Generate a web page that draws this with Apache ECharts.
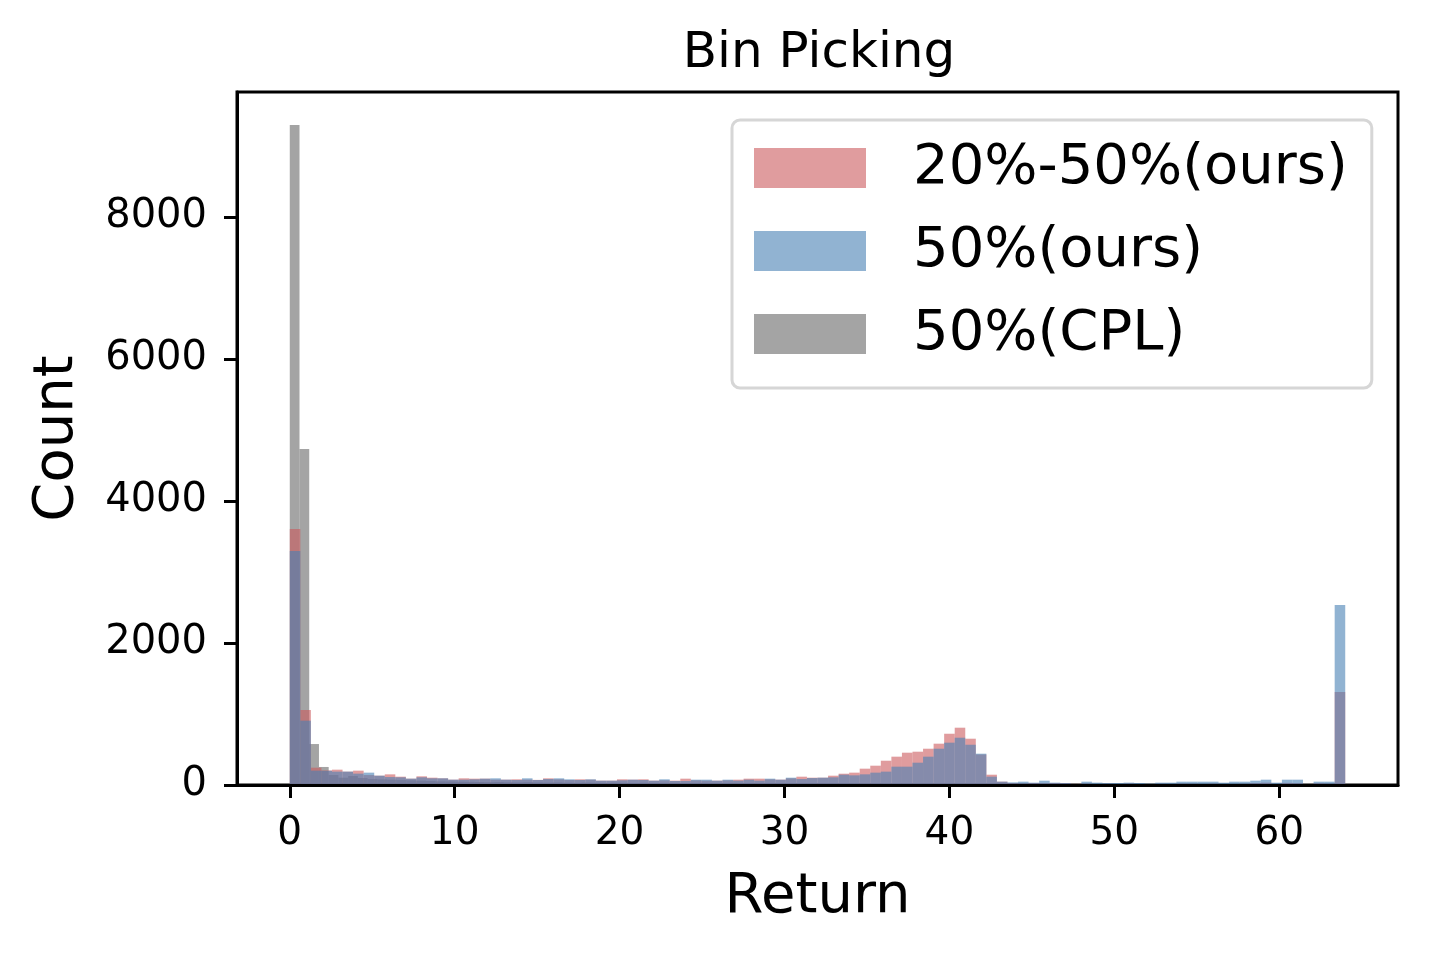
<!DOCTYPE html>
<html>
<head>
<meta charset="utf-8">
<title>Bin Picking</title>
<script src="https://cdn.jsdelivr.net/npm/echarts@6/dist/echarts.min.js"></script>
<style>
  html, body { margin: 0; padding: 0; background: #fff; }
  #chart { width: 1429px; height: 956px; }
</style>
</head>
<body>
<div id="chart"></div>
<script>
// histogram counts, one entry per bin
const binsOurs2050 = { start: 0, end: 64 }
const counts2050 = [
  3606, 1056, 244, 205, 216, 188, 202, 140, 131, 150,
  117, 89, 122, 103, 94, 75, 94, 89, 89, 75,
  75, 80, 75, 72, 94, 80, 70, 80, 75, 61,
  61, 80, 75, 80, 61, 66, 61, 89, 66, 61,
  61, 66, 75, 89, 89, 80, 75, 94, 117, 103,
  103, 131, 159, 174, 230, 272, 342, 399, 455, 469,
  511, 582, 722, 807, 652, 430, 145, 47, 28, 23,
  28, 25, 28, 25, 15, 20, 12, 18, 15, 20,
  15, 10, 18, 15, 20, 18, 15, 20, 12, 15,
  18, 25, 33, 15, 30, 25, 0, 25, 20, 1310
]

const binsOurs50 = { start: 0, end: 64 }
const counts50 = [
  3296, 906, 202, 200, 188, 188, 160, 174, 131, 112,
  108, 89, 108, 94, 94, 75, 75, 80, 89, 94,
  75, 70, 94, 70, 84, 94, 80, 70, 80, 61,
  61, 66, 75, 70, 61, 80, 56, 56, 75, 75,
  61, 75, 61, 75, 61, 89, 75, 103, 84, 98,
  103, 108, 145, 136, 150, 174, 188, 258, 258, 314,
  399, 511, 596, 666, 567, 441, 117, 47, 37, 47,
  33, 61, 33, 28, 14, 47, 33, 28, 28, 33,
  28, 19, 33, 33, 47, 47, 47, 47, 33, 47,
  47, 61, 75, 33, 75, 75, 0, 47, 47, 2535
]

const binsCpl50 = { start: 0, end: 59 }
const countsCpl50 = [
  9296, 4732, 577, 254, 141, 103, 127, 99, 85, 80,
  75, 70, 66, 61, 56, 52, 50, 47, 45, 42,
  40, 42, 38, 36, 40, 35, 33, 36, 32, 30,
  34, 31, 29, 33, 30, 28, 31, 27, 30, 29,
  26, 28, 30, 27, 25, 29, 26, 28, 24, 27,
  25, 23, 26, 24, 27, 22, 25, 23, 21, 24,
  22, 20, 23, 21, 19, 22, 20, 18, 21, 19,
  17, 20, 18, 16, 19, 17, 15, 18, 16, 14,
  17, 15, 13, 16, 14, 12, 15, 13, 11, 14,
  12, 10, 13, 11, 9, 12, 10, 8, 11, 9
]

const xTicks = [0, 10, 20, 30, 40, 50, 60]
const yTicks = [0, 2000, 4000, 6000, 8000]

const toBins = (range, counts) => {
  const w = (range.end - range.start) / counts.length
  return counts.map((c, i) => [range.start + i * w, range.start + (i + 1) * w, c])
}

const renderBin = (params, api) => {
  const p0 = api.coord([api.value(0), 0])
  const p1 = api.coord([api.value(1), api.value(2)])
  return {
    type: 'rect',
    shape: { x: p0[0], y: p1[1], width: p1[0] - p0[0], height: p0[1] - p1[1] },
    style: { fill: api.visual('color') },
  }
}

const FONT = 'DejaVu Sans'

const histSeries = (name, color, range, counts) => ({
  name: name,
  type: 'custom',
  renderItem: renderBin,
  itemStyle: { color: color },
  encode: { x: [0, 1], y: 2 },
  data: toBins(range, counts),
  clip: true,
})

const chart = echarts.init(document.getElementById('chart'), null, { renderer: 'canvas' })

chart.setOption({
  animation: false,
  backgroundColor: '#fff',
  title: {
    text: 'Bin Picking',
    left: 814,
    top: 24,
    textAlign: 'center',
    textStyle: { fontFamily: FONT, fontSize: 50, fontWeight: 'normal', color: '#000' },
  },
  legend: {
    data: ['20%-50%(ours)', '50%(ours)', '50%(CPL)'],
    orient: 'vertical',
    left: 732,
    top: 120,
    padding: [20, 24, 26, 22],
    itemWidth: 112,
    itemHeight: 40,
    itemGap: 27,
    icon: 'rect',
    backgroundColor: '#fff',
    borderColor: '#d6d6d6',
    borderWidth: 3,
    borderRadius: 8,
    textStyle: { fontFamily: FONT, fontSize: 56, color: '#000', padding: [0, 0, 0, 42] },
  },
  grid: {
    left: 237,
    right: 31,
    top: 92,
    bottom: 171,
    show: true,
    borderColor: '#000',
    borderWidth: 3,
  },
  xAxis: {
    type: 'value',
    min: -3.2,
    max: 67.2,
    z: 10,
    name: 'Return',
    nameLocation: 'middle',
    nameGap: 84,
    nameTextStyle: { fontFamily: FONT, fontSize: 56, color: '#000' },
    splitLine: { show: false },
    axisLine: { onZero: false, lineStyle: { color: '#000', width: 3 } },
    axisTick: { customValues: xTicks, length: 13, lineStyle: { color: '#000', width: 3 } },
    axisLabel: { customValues: xTicks, margin: 29, fontFamily: FONT, fontSize: 39, color: '#000' },
  },
  yAxis: {
    type: 'value',
    min: 0,
    max: 9760,
    z: 10,
    name: 'Count',
    nameLocation: 'middle',
    nameGap: 152,
    nameRotate: 90,
    nameTextStyle: { fontFamily: FONT, fontSize: 56, color: '#000' },
    splitLine: { show: false },
    axisLine: { show: true, onZero: false, lineStyle: { color: '#000', width: 3 } },
    axisTick: { show: true, customValues: yTicks, length: 13, lineStyle: { color: '#000', width: 3 } },
    axisLabel: {
      customValues: yTicks,
      margin: 30,
      fontFamily: FONT,
      fontSize: 40,
      color: '#000',
      formatter: (v) => String(v),
    },
  },
  series: [
    histSeries('50%(CPL)', 'rgba(103,103,103,0.6)', binsCpl50, countsCpl50),
    histSeries('20%-50%(ours)', 'rgba(203,90,93,0.6)', binsOurs2050, counts2050),
    histSeries('50%(ours)', 'rgba(72,128,180,0.6)', binsOurs50, counts50),
  ],
})
</script>
</body>
</html>
